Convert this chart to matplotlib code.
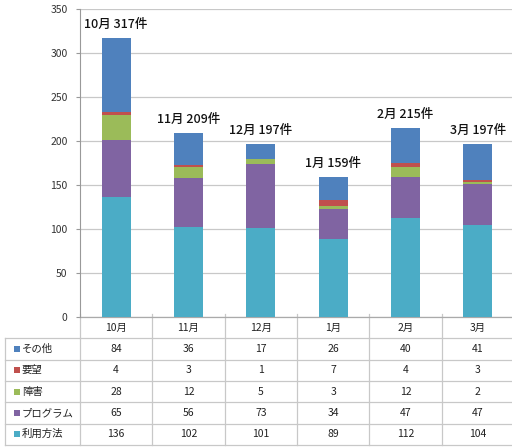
import matplotlib
matplotlib.use("Agg")
import matplotlib.pyplot as plt
from matplotlib.patches import Rectangle
from matplotlib.transforms import blended_transform_factory
import numpy as np

plt.rcParams['font.family'] = ['Noto Sans CJK JP', 'DejaVu Sans']

months = ["10月", "11月", "12月", "1月", "2月", "3月"]
other = [84, 36, 17, 26, 40, 41]
request = [4, 3, 1, 7, 4, 3]
fault = [28, 12, 5, 3, 12, 2]
program = [65, 56, 73, 34, 47, 47]
usage = [136, 102, 101, 89, 112, 104]

# stacked bottom -> top
series = [("利用方法", usage, "#4BACC6"),
          ("プログラム", program, "#8064A2"),
          ("障害", fault, "#9BBB59"),
          ("要望", request, "#C0504D"),
          ("その他", other, "#4F81BD")]

W, H = 512, 447
fig = plt.figure(figsize=(W / 100, H / 100), dpi=100)
ax = fig.add_axes([80 / W, 1 - 317 / H, 434 / W, 308 / H])

x = np.arange(len(months))
bottom = np.zeros(len(months))
for name, vals, col in series:
    ax.bar(x, vals, width=0.4, bottom=bottom, color=col, zorder=3)
    bottom += np.array(vals)

totals = bottom
for xi, m, t in zip(x, months, totals):
    ax.text(xi, t + 8, f"{m} {int(t)}件", ha="center", va="bottom",
            fontsize=9, fontweight="medium", color="#111111")

ax.set_xlim(-0.5, len(months) - 0.5)
ax.set_ylim(0, 350)
ax.set_yticks(range(0, 351, 50))
ax.set_xticks([])
ax.grid(axis="y", color="#c8c8c8", linewidth=0.9, zorder=0)
for s in ["top", "right", "bottom"]:
    ax.spines[s].set_visible(False)
ax.spines["left"].set_color("#999999")
ax.tick_params(axis="y", labelsize=7.5, colors="#999999", labelcolor="#333333",
               length=3, pad=6)

# data table under the plot
tr = blended_transform_factory(ax.transData, fig.transFigure)
line_col = "#c8c8c8"
top_px = 317
row_h = 21.3
col_px = 434 / len(months)
label_left = -0.5 - 75 / col_px


def fy(px):
    return 1 - px / H


n_rows = len(series) + 1
bottom_px = top_px + n_rows * row_h
for i in range(len(months) + 1):
    ax.plot([i - 0.5, i - 0.5], [fy(top_px - 3), fy(bottom_px)], color=line_col,
            lw=0.9, transform=tr, clip_on=False)
ax.plot([label_left, label_left], [fy(top_px + row_h), fy(bottom_px)],
        color=line_col, lw=0.9, transform=tr, clip_on=False)
ax.plot([-0.5, len(months) - 0.5], [fy(top_px), fy(top_px)], color="#aaaaaa",
        lw=0.9, transform=tr, clip_on=False)
for r in range(1, n_rows + 1):
    yy = fy(top_px + r * row_h)
    ax.plot([label_left, len(months) - 0.5], [yy, yy], color=line_col, lw=0.9,
            transform=tr, clip_on=False)

for xi, m in zip(x, months):
    ax.text(xi, fy(top_px + row_h / 2), m, ha="center", va="center",
            fontsize=7.5, color="#222222", transform=tr)

for r, (name, vals, col) in enumerate(series[::-1], start=1):
    yc_px = top_px + r * row_h + row_h / 2
    yc = fy(yc_px)
    ax.add_patch(Rectangle((label_left + 9 / col_px, fy(yc_px + 3)),
                           6 / col_px, 6 / H, facecolor=col, edgecolor="none",
                           transform=tr, clip_on=False))
    ax.text(label_left + 17 / col_px, yc, name, ha="left", va="center",
            fontsize=7.5, color="#222222", transform=tr)
    for xi, v in zip(x, vals):
        ax.text(xi, yc, str(v), ha="center", va="center", fontsize=7.5,
                color="#222222", transform=tr)

fig.savefig("out.png", dpi=100)
